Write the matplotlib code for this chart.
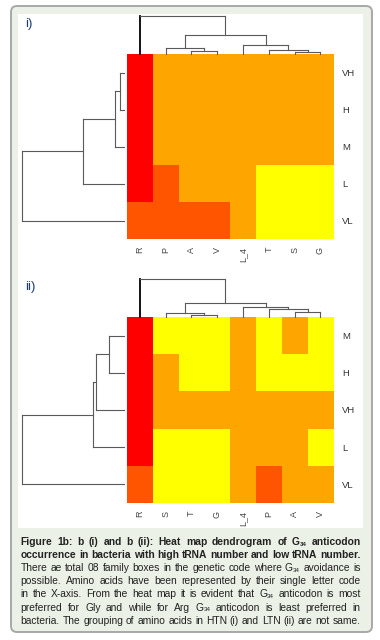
import matplotlib
matplotlib.use("Agg")
import matplotlib.pyplot as plt
import numpy as np
from matplotlib.colors import ListedColormap
from matplotlib.patches import FancyBboxPatch, Rectangle
from matplotlib.collections import LineCollection

plt.rcParams['font.family'] = ['Liberation Sans', 'DejaVu Sans']

# ---------------- data ----------------
# colour levels: 0 = red, 1 = dark orange, 2 = orange, 3 = yellow
heat_colors = ["#FF0000", "#FF5500", "#FFA500", "#FFFF00"]

cols_i = ["R", "P", "A", "V", "L_4", "T", "S", "G"]
rows_i = ["VH", "H", "M", "L", "VL"]
values_i = [
    [0, 2, 2, 2, 2, 2, 2, 2],
    [0, 2, 2, 2, 2, 2, 2, 2],
    [0, 2, 2, 2, 2, 2, 2, 2],
    [0, 1, 2, 2, 2, 3, 3, 3],
    [1, 1, 1, 1, 2, 3, 3, 3],
]
# merges: (left node, right node, height); new nodes numbered after leaves
col_merges_i = [(2, 3, 2.7), (6, 7, 1.7), (5, 9, 4.0), (1, 8, 6.0),
                (4, 10, 9.0), (11, 12, 19.3), (0, 13, 37.7)]
row_merges_i = [(0, 1, 4.0), (5, 2, 9.3), (6, 3, 40.7), (7, 4, 101.7)]

cols_ii = ["R", "S", "T", "G", "L_4", "P", "A", "V"]
rows_ii = ["M", "H", "VH", "L", "VL"]
values_ii = [
    [0, 3, 3, 3, 2, 3, 2, 3],
    [0, 2, 3, 3, 2, 3, 3, 3],
    [0, 2, 2, 2, 2, 2, 2, 2],
    [0, 3, 3, 3, 2, 2, 2, 3],
    [1, 3, 3, 3, 2, 1, 2, 2],
]
col_merges_ii = [(2, 3, 2.3), (1, 8, 4.0), (6, 7, 5.0), (5, 10, 7.7),
                 (4, 11, 10.0), (9, 12, 14.0), (0, 13, 37.7)]
row_merges_ii = [(0, 1, 15.3), (5, 2, 27.7), (6, 3, 30.7), (7, 4, 101.7)]

caption_bold = [
    "Figure 1b: b (i) and b (ii): Heat map dendrogram of G_34 anticodon",
    "occurrence in bacteria with high tRNA number and low tRNA number.",
]
caption_normal = [
    "There ae total 08 family boxes in the genetic code where G_34 avoidance is",
    "possible. Amino acids have been represented by their single letter code",
    "in the X-axis.  From the heat map it is evident that G_34 anticodon is most",
    "preferred for Gly and while for Arg G_34 anticodon is least preferred in",
    "bacteria. The grouping of amino acids in HTN (i) and LTN (ii) are not same.",
]

# ---------------- figure ----------------
W, H = 380, 640
fig = plt.figure(figsize=(W / 100, H / 100), dpi=100)
bg = fig.add_axes([0, 0, 1, 1])
bg.set_xlim(0, W)
bg.set_ylim(H, 0)
bg.axis('off')

bg.add_patch(FancyBboxPatch((11, 6), 361, 626,
                            boxstyle='round,pad=0,rounding_size=6',
                            fc='#ECF1E7', ec='#A8A8A8', lw=1.4))
bg.add_patch(Rectangle((18, 14), 345, 514, fc='white', ec='none'))

bg.text(25, 24, "i)", color='#1d3c6e', fontsize=9.5, va='center', ha='left')
bg.text(25, 287, "ii)", color='#1d3c6e', fontsize=9.5, va='center', ha='left')


def px_axes(x0, y0, x1, y1):
    return fig.add_axes([x0 / W, 1 - y1 / H, (x1 - x0) / W, (y1 - y0) / H])


def dendro_segments(n, merges):
    pos = {i: float(i) for i in range(n)}
    hgt = {i: 0.0 for i in range(n)}
    segs = []
    for k, (a, b, h) in enumerate(merges):
        node = n + k
        segs.append((a, [(pos[a], hgt[a]), (pos[a], h)]))
        segs.append((-1, [(pos[a], h), (pos[b], h)]))
        segs.append((b, [(pos[b], h), (pos[b], hgt[b])]))
        pos[node] = (pos[a] + pos[b]) / 2
        hgt[node] = h
    return segs


def draw_dendro(ax, n, merges, orient):
    lines, colors, widths = [], [], []
    for who, seg in dendro_segments(n, merges):
        if orient != 'top':
            seg = [(p[1], p[0]) for p in seg]
        lines.append(seg)
        if orient == 'top' and who == 0:
            colors.append('black'); widths.append(1.3)
        else:
            colors.append('#5a5a5a'); widths.append(0.8)
    ax.add_collection(LineCollection(lines, colors=colors, linewidths=widths,
                                     capstyle='projecting', clip_on=False))


def panel(values, cols, rows, col_merges, row_merges, y0, y1):
    hx0, hx1 = 127, 333.3
    ax = px_axes(hx0, y0, hx1, y1)
    ax.imshow(np.array(values), cmap=ListedColormap(heat_colors), vmin=-0.5,
              vmax=3.5, aspect='auto', interpolation='nearest')
    ax.set_xticks(range(len(cols)))
    ax.set_xticklabels(cols, rotation=90, fontsize=6.5, color='#444444', va='top')
    ax.set_yticks(range(len(rows)))
    ax.set_yticklabels(rows, fontsize=6.8, color='#333333')
    ax.yaxis.tick_right()
    ax.tick_params(length=0)
    ax.tick_params(axis='x', pad=5.5)
    ax.tick_params(axis='y', pad=6.5)
    for s in ax.spines.values():
        s.set_visible(False)

    # column dendrogram
    cd = px_axes(hx0, y0 - 42, hx1, y0)
    cd.set_xlim(-0.5, len(cols) - 0.5)
    cd.set_ylim(0, 42)
    cd.axis('off')
    draw_dendro(cd, len(cols), col_merges, 'top')

    # row dendrogram
    rd = px_axes(14, y0, 124, y1)
    rd.set_xlim(110, 0)
    rd.set_ylim(len(rows) - 0.5, -0.5)
    rd.axis('off')
    draw_dendro(rd, len(rows), row_merges, 'left')


panel(values_i, cols_i, rows_i, col_merges_i, row_merges_i, 54, 239.3)
panel(values_ii, cols_ii, rows_ii, col_merges_ii, row_merges_ii, 317, 503)

# ---------------- caption (justified) ----------------
renderer = fig.canvas.get_renderer()


def measure(text, size, weight):
    t = bg.text(0, 0, text, fontsize=size, fontweight=weight)
    w = t.get_window_extent(renderer).width
    t.remove()
    return w


X0, X1 = 20.7, 360.5
# font sizes chosen so that an unstretched line fills the column
FS_N = 10 * (X1 - X0) / measure(caption_normal[-1].replace("_", ""), 10, 'normal')
FS_B = 10 * (X1 - X0) / measure(caption_bold[-1], 10, 'bold')
FS_B = min(FS_B, FS_N)


def word_pieces(word):
    if "_" in word:
        base, sub = word.split("_", 1)
        return [(base, False), (sub, True)]
    return [(word, False)]


def draw_line(line, y, weight, fs):
    subfs = fs * 0.6
    words = line.split()
    widths = []
    for w in words:
        tot = 0
        for txt, sub in word_pieces(w):
            tot += measure(txt, subfs if sub else fs, weight)
        widths.append(tot)
    gap = (X1 - X0 - sum(widths)) / (len(words) - 1)
    x = X0
    for w, ww in zip(words, widths):
        xx = x
        for txt, sub in word_pieces(w):
            size = subfs if sub else fs
            bg.text(xx, y + (2.4 if sub else 0), txt, fontsize=size,
                    fontweight=weight, color='#222222', va='center', ha='left')
            xx += measure(txt, size, weight)
        x += ww + gap


y = 542
for ln in caption_bold:
    draw_line(ln, y, 'bold', FS_B)
    y += 13.1
for ln in caption_normal:
    draw_line(ln, y, 'normal', FS_N)
    y += 13.1

fig.savefig("out.png", dpi=100)
